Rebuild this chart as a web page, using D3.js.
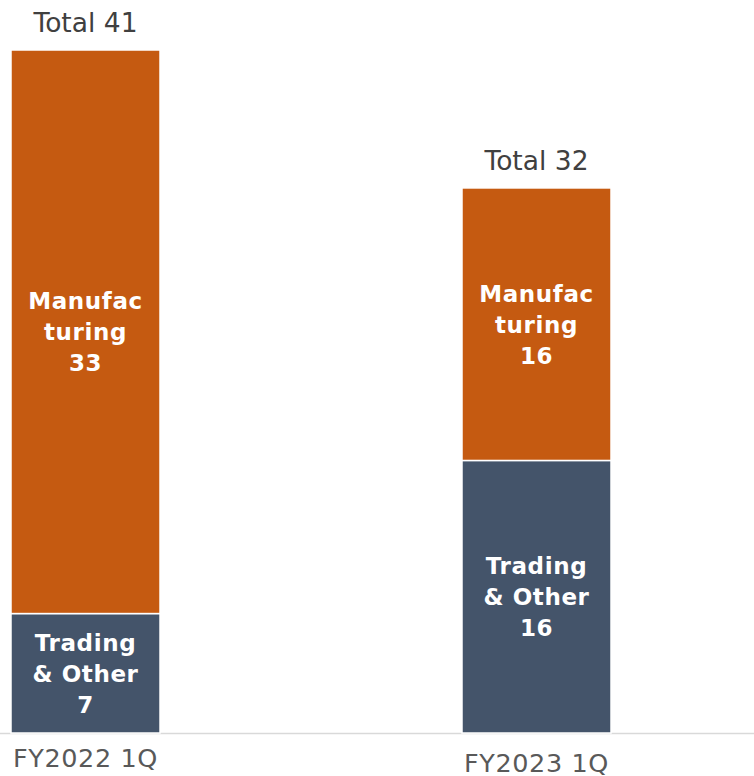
<!DOCTYPE html>
<html><head><meta charset="utf-8">
<script src="https://cdn.jsdelivr.net/npm/d3@7"></script>
<style>html,body{margin:0;padding:0;background:#fff;}svg{display:block;}</style>
</head><body>
<svg id="chart" width="754" height="776"></svg>
<script>
const categories = ["FY2022 1Q", "FY2023 1Q"];
const tradingValues = [7.1, 16.2];
const manufacturingValues = [33.5, 16.2];
const tradingValueLabels = ["7", "16"];
const manufacturingValueLabels = ["33", "16"];
const totalLabels = ["Total 41", "Total 32"];
const tradingName = ["Trading", "& Other"];
const manufacturingName = ["Manufac", "turing"];

const W = 754, H = 776;
const baseY = 733, topY = 50;
const svg = d3.select("#chart");
const font = "'DejaVu Sans', 'Noto Sans', sans-serif";

const x = d3.scaleBand().domain(categories).range([11, 611]).paddingInner(0.6696).paddingOuter(0);
const maxTotal = d3.max(categories.map((c, i) => tradingValues[i] + manufacturingValues[i]));
const y = d3.scaleLinear().domain([0, maxTotal]).range([baseY, topY]);

const rows = categories.map((c, i) => ({cat: c, i, t: tradingValues[i], m: manufacturingValues[i]}));
const stack = d3.stack().keys(["t", "m"])(rows);
const colors = {t: "#44546A", m: "#C55A11"};

// axis line
svg.append("line").attr("x1", 0).attr("x2", W).attr("y1", baseY + 0.5).attr("y2", baseY + 0.5)
  .attr("stroke", "#d9d9d9").attr("stroke-width", 1.5);

stack.forEach(layer => {
  svg.append("g").selectAll("rect").data(layer).join("rect")
    .attr("x", d => x(d.data.cat))
    .attr("width", x.bandwidth())
    .attr("y", d => y(d[1]))
    .attr("height", d => y(d[0]) - y(d[1]))
    .attr("fill", colors[layer.key])
    .attr("stroke", "#fff").attr("stroke-width", 1.5);
});

// segment labels
const lineH = 31;
stack.forEach(layer => {
  const names = layer.key === "t" ? tradingName : manufacturingName;
  const vals = layer.key === "t" ? tradingValueLabels : manufacturingValueLabels;
  layer.forEach((d, i) => {
    const cx = x(d.data.cat) + x.bandwidth() / 2;
    const cy = (y(d[0]) + y(d[1])) / 2;
    const lines = names.concat([vals[i]]);
    const t = svg.append("text").attr("text-anchor", "middle")
      .attr("font-family", font).attr("font-size", 23).attr("font-weight", "bold")
      .attr("fill", "#fff").attr("letter-spacing", 0.6);
    lines.forEach((s, k) => {
      t.append("tspan").attr("x", cx).attr("y", cy + (k - 1) * lineH + 8.5).text(s);
    });
  });
});

// totals
svg.append("g").selectAll("text").data(rows).join("text")
  .attr("x", d => x(d.cat) + x.bandwidth() / 2)
  .attr("y", d => y(d.t + d.m) - 18)
  .attr("text-anchor", "middle")
  .attr("font-family", font).attr("font-size", 26.5)
  .attr("fill", "#404040")
  .text((d, i) => totalLabels[i]);

// category labels
svg.append("g").selectAll("text").data(categories).join("text")
  .attr("x", d => x(d) + x.bandwidth() / 2)
  .attr("y", (d, i) => baseY + (i === 0 ? 34 : 39))
  .attr("text-anchor", "middle")
  .attr("font-family", font).attr("font-size", 25.5)
  .attr("letter-spacing", 0.6)
  .attr("fill", "#595959")
  .text(d => d);
</script>
</body></html>
